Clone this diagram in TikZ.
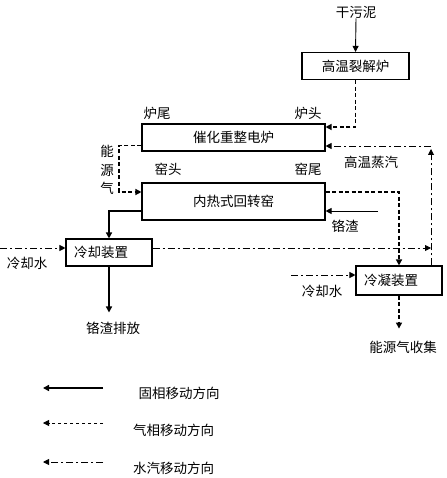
\documentclass[tikz,border=0pt]{standalone}
\usepackage{fontspec}
\newfontfamily\cjkfont{Noto Sans CJK SC}
\usetikzlibrary{arrows.meta, positioning}

\begin{document}
\begin{tikzpicture}[
    x=1pt, y=-1pt,
    every node/.style={font=\cjkfont\fontsize{13.5}{18.5}\selectfont, inner sep=0pt},
    box/.style={rectangle, draw, line width=1.1pt, minimum height=27pt, align=center},
    solidflow/.style={-{Triangle[length=6pt,width=6pt]}, line width=1.8pt},
    thinflow/.style={-{Triangle[length=6pt,width=6pt]}, line width=0.9pt},
    gasflow/.style={-{Triangle[length=6pt,width=6pt]}, line width=1.3pt, dash pattern=on 4pt off 2.5pt},
    gasthin/.style={-{Triangle[length=6pt,width=6pt]}, line width=0.8pt, dash pattern=on 3pt off 3pt},
    steamflow/.style={-{Triangle[length=6pt,width=6pt]}, line width=0.9pt, dash pattern=on 7pt off 3pt on 2pt off 3pt}
]
\useasboundingbox (0,0) rectangle (446,478);

% boxes
\node[box, minimum width=107pt] (pyro) at (355.5,66) {高温裂解炉};
\node[box, minimum width=183pt] (reform) at (233.5,137.5) {催化重整电炉};
\node[box, minimum width=183pt, minimum height=37pt] (kiln) at (233.5,201.5) {内热式回转窑};
\node[box, text width=70pt, align=left, inner xsep=8pt] (cooler) at (109,252.5) {冷却装置};
\node[box, text width=70pt, align=left, inner xsep=8pt, minimum height=29pt] (cond) at (399,280.5) {冷凝装置};

% labels
\node (sludge) at (356,12) {干污泥};
\node (rtail) at (157,113) {炉尾};
\node (rhead) at (308,113) {炉头};
\node (khead) at (168,169) {窑头};
\node (ktail) at (308,169) {窑尾};
\node[align=center] (egas) at (107,170) {能\\源\\气};
\node (steam) at (371,162) {高温蒸汽};
\node (slag) at (345,226) {铬渣};
\node (water1) at (27,263) {冷却水};
\node (water2) at (322,291) {冷却水};
\node (slagout) at (113,328) {铬渣排放};
\node (collect) at (403,347) {能源气收集};

\coordinate (steamtop) at (431,146);
\coordinate (gasbend) at (119,192);
\coordinate (slagin) at (378,211);
\coordinate (cwin) at (0,248);
\coordinate (cwin2) at (291,275);

% flows
\draw[thinflow] (sludge.south) -- (pyro.north);
\draw[gasflow] (pyro.south) |- ([yshift=10.5pt]reform.east);
\draw[gasflow] ([yshift=-8pt]reform.west) -| (gasbend) -- ([yshift=9.5pt]kiln.west);
\draw[gasflow] ([yshift=9.5pt]kiln.east) -| (cond.north);
\draw[thinflow] (slagin) -- (slagin -| kiln.east);
\draw[solidflow] ([yshift=-9.5pt]kiln.west) -| (cooler.north);
\draw[solidflow, shorten >=9pt] (cooler.south) -- (cooler.south |- slagout.north);
\draw[gasflow, shorten >=12pt] (cond.south) -- (cond.south |- collect.north);
\draw[steamflow] (cwin) -- (cwin -| cooler.west);
\draw[steamflow] (cwin -| cooler.east) -- (cwin -| steamtop);
\draw[steamflow] (cwin2) -- (cwin2 -| cond.west);
\draw[steamflow] (cond.north -| steamtop) -- ([yshift=-3pt]steamtop);
\draw[steamflow] (steamtop) -- (steamtop -| reform.east);

% legend
\coordinate (l1) at (103,388);
\coordinate (l2) at (103,423);
\coordinate (l3) at (103,462);
\draw[solidflow] (l1) -- ++(-60,0);
\draw[gasthin] (l2) -- ++(-60,0);
\draw[steamflow] (l3) -- ++(-60,0);
\node (leg1) at (179,393) {固相移动方向};
\node (leg2) at (173.5,430) {气相移动方向};
\node (leg3) at (173.5,468) {水汽移动方向};
\end{tikzpicture}
\end{document}
